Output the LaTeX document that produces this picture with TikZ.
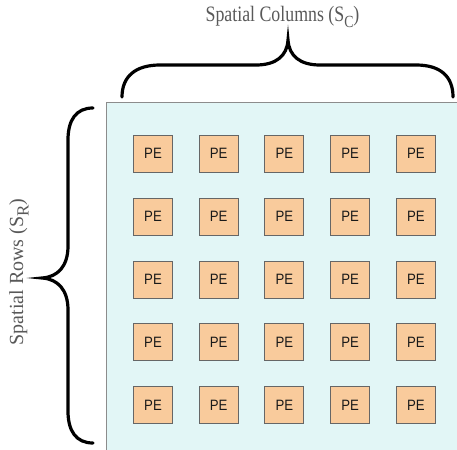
\documentclass[tikz,border=0pt]{standalone}
\usepackage{fontspec}
\setmainfont{Liberation Serif}
\newfontfamily\pefont{Liberation Sans}
\definecolor{bgc}{HTML}{E2F6F6}
\definecolor{pec}{HTML}{F9CB9C}
\definecolor{pedraw}{HTML}{666666}
\definecolor{labc}{HTML}{595959}
\newcommand{\subl}[1]{\raisebox{-0.28em}{\fontsize{17}{17}\selectfont #1}}
\begin{document}
\begin{tikzpicture}[x=1pt,y=-1pt,
  pebox/.style={draw=pedraw,fill=pec,line width=0.9pt,minimum width=39pt,minimum height=37pt,inner sep=0pt},
  petxt/.style={font=\pefont\fontsize{15}{15}\selectfont,text=black!90,xscale=0.88,inner sep=0pt},
  bracel/.style={line width=3.2pt,line cap=round,black},
  lab/.style={text=labc,inner sep=0pt}]
\useasboundingbox (0,0) rectangle (457,449);
% background
\node[draw=black!45,fill=bgc,line width=0.8pt,minimum width=360pt,minimum height=352pt,anchor=north west,inner sep=0pt] (bg) at (105.5,102.5) {};
% PEs
\foreach \r in {0,...,4}{
  \foreach \c in {0,...,4}{
    \node[pebox] (pe\r\c) at ({153+65.7*\c},{153.7+62.9*\r}) {};
    \node[petxt] at (pe\r\c.center) {PE};
  }
}
% labels
\node[lab,font=\fontsize{22}{22}\selectfont,xscale=0.81] (coltxt) at (282.5,17) {Spatial Columns (S\subl{C})};
\node[lab,font=\fontsize{20}{20}\selectfont,rotate=90] (rowtxt) at (19,272) {Spatial Rows (S\subl{R})};
% top brace
\coordinate (tb1) at (122,97);
\coordinate (tb2) at (453,97);
\coordinate (tbtip) at (288,40);
\draw[bracel] (tb1) .. controls (122,76) and (136,65) .. (160,65) -- (256,65)
  .. controls (276,65) and (287,56) .. (tbtip)
  .. controls (289,56) and (300,65) .. (320,65) -- (416,65)
  .. controls (440,65) and (453,76) .. (tb2);
% left brace
\coordinate (lb1) at (93,108);
\coordinate (lb2) at (93,443);
\coordinate (lbtip) at (42,278);
\draw[bracel] (lb1) .. controls (76,108) and (68,120) .. (68,140) -- (68,246)
  .. controls (68,266) and (58,277) .. (lbtip)
  .. controls (58,279) and (68,290) .. (68,310) -- (68,411)
  .. controls (68,431) and (76,443) .. (lb2);
\end{tikzpicture}
\end{document}
